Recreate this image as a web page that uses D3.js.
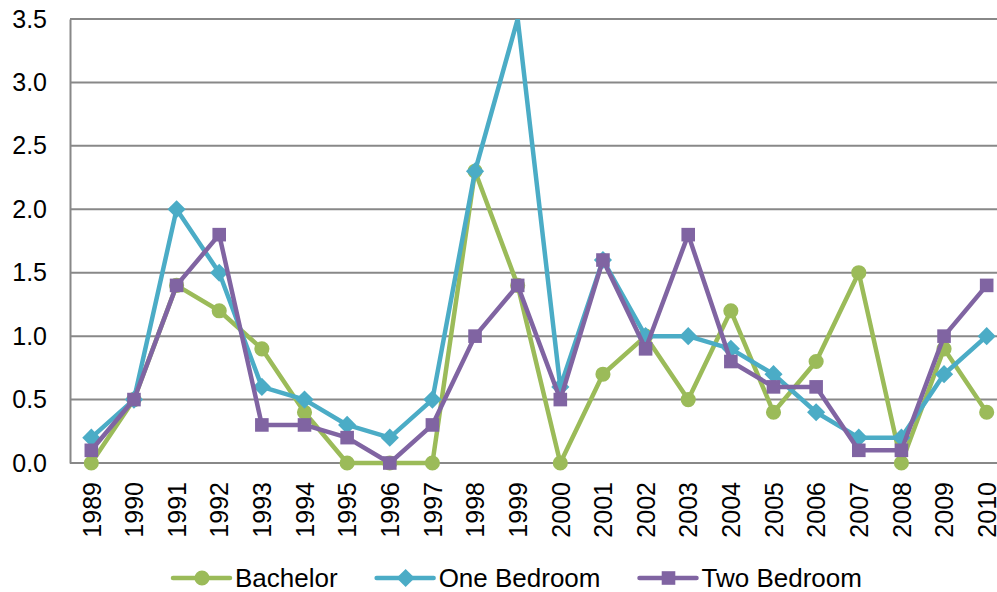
<!DOCTYPE html>
<html>

<head>
  <meta charset="utf-8">
  <title>Vacancy by unit type</title>
  <style>
    body { margin: 0; background: #fff; }
    svg { display: block; font-family: "Liberation Sans", Arial, sans-serif; }
  </style>
</head>

<body>
  <svg id="mySVG"></svg>

  <script src="https://cdnjs.cloudflare.com/ajax/libs/d3/7.8.5/d3.min.js"></script>
  <script>
    /** Chart data */
    const years = ["1989", "1990", "1991", "1992", "1993", "1994", "1995", "1996", "1997", "1998", "1999",
      "2000", "2001", "2002", "2003", "2004", "2005", "2006", "2007", "2008", "2009", "2010"];
    const bachelor = [0, 0.5, 1.4, 1.2, 0.9, 0.4, 0, 0, 0, 2.3, 1.4, 0, 0.7, 1.0, 0.5, 1.2, 0.4, 0.8, 1.5, 0, 0.9, 0.4];
    const oneBedroom = [0.2, 0.5, 2.0, 1.5, 0.6, 0.5, 0.3, 0.2, 0.5, 2.3, 3.5, 0.6, 1.6, 1.0, 1.0, 0.9, 0.7, 0.4, 0.2, 0.2, 0.7, 1.0];
    const twoBedroom = [0.1, 0.5, 1.4, 1.8, 0.3, 0.3, 0.2, 0, 0.3, 1.0, 1.4, 0.5, 1.6, 0.9, 1.8, 0.8, 0.6, 0.6, 0.1, 0.1, 1.0, 1.4];
    const yTicks = [0, 0.5, 1.0, 1.5, 2.0, 2.5, 3.0, 3.5];

    // diamond = square turned 45 degrees
    const series = [
      { name: "Bachelor", values: bachelor, color: "#9BBB59", shape: d3.symbolCircle, size: 180, rot: 0 },
      { name: "One Bedroom", values: oneBedroom, color: "#4BACC6", shape: d3.symbolSquare, size: 165, rot: 45 },
      { name: "Two Bedroom", values: twoBedroom, color: "#8064A2", shape: d3.symbolSquare, size: 185, rot: 0 }
    ];

    const width = 997, height = 592;
    const plot = { left: 70, top: 19, right: 1008, bottom: 463 };

    const svg = d3.select("#mySVG")
      .attr("width", width)
      .attr("height", height)
      .attr("viewBox", [0, 0, width, height]);

    /** Scales */
    const x = d3.scalePoint()
      .domain(years)
      .range([plot.left, plot.right])
      .padding(0.5);

    const y = d3.scaleLinear()
      .domain([0, 3.5])
      .range([plot.bottom, plot.top]);

    /** Gridlines */
    svg.append("g")
      .selectAll("line")
      .data(yTicks)
      .join("line")
      .attr("x1", plot.left)
      .attr("x2", width)
      .attr("y1", d => y(d))
      .attr("y2", d => y(d))
      .attr("stroke", "#888")
      .attr("stroke-width", 2);

    /** Y axis */
    const yAxis = svg.append("g")
      .attr("transform", `translate(${plot.left},0)`)
      .call(d3.axisLeft(y).tickValues(yTicks).tickFormat(d3.format(".1f")).tickSize(0).tickPadding(23));
    yAxis.select(".domain")
      .attr("stroke", "#888")
      .attr("stroke-width", 2);
    yAxis.selectAll("text")
      .attr("font-size", 25)
      .attr("fill", "#000")
      .attr("font-family", "Liberation Sans, Arial, sans-serif");

    /** X axis, rotated labels */
    const xAxis = svg.append("g")
      .attr("transform", `translate(0,${plot.bottom})`)
      .call(d3.axisBottom(x).tickSize(0));
    xAxis.select(".domain").remove();
    xAxis.selectAll("text")
      .attr("font-size", 25)
      .attr("fill", "#000")
      .attr("font-family", "Liberation Sans, Arial, sans-serif")
      .attr("text-anchor", "end")
      .attr("dy", "0.35em")
      .attr("y", 0)
      .attr("transform", "translate(0,19) rotate(-90)");

    /** Clip lines at the top of the plot */
    svg.append("clipPath")
      .attr("id", "clip")
      .append("rect")
      .attr("x", 0)
      .attr("y", plot.top)
      .attr("width", width)
      .attr("height", height - plot.top);

    const line = d3.line()
      .x((d, i) => x(years[i]))
      .y(d => y(d));

    const gSeries = svg.append("g").attr("clip-path", "url(#clip)");

    series.forEach(s => {
      const g = gSeries.append("g");
      g.append("path")
        .datum(s.values)
        .attr("d", line)
        .attr("fill", "none")
        .attr("stroke", s.color)
        .attr("stroke-width", 4.5)
        .attr("stroke-linejoin", "round");
      // markers sitting on the top edge are hidden, like the source chart
      g.selectAll(".marker")
        .data(s.values.map((v, i) => ({ v, year: years[i] })).filter(d => d.v < y.domain()[1]))
        .join("path")
        .attr("class", "marker")
        .attr("d", d3.symbol(s.shape, s.size))
        .attr("transform", d => `translate(${x(d.year)},${y(d.v)}) rotate(${s.rot})`)
        .attr("fill", s.color);
    });

    /** Legend */
    const legend = svg.append("g").attr("transform", "translate(0,578)");
    let lx = 173;
    series.forEach(s => {
      const item = legend.append("g").attr("transform", `translate(${lx},0)`);
      item.append("line")
        .attr("x1", 0)
        .attr("x2", 57)
        .attr("stroke", s.color)
        .attr("stroke-width", 4.5)
        .attr("stroke-linecap", "round");
      item.append("path")
        .attr("d", d3.symbol(s.shape, s.size))
        .attr("transform", `translate(29,0) rotate(${s.rot})`)
        .attr("fill", s.color);
      const t = item.append("text")
        .attr("x", 62)
        .attr("dy", "0.36em")
        .attr("font-size", 26)
        .attr("fill", "#000")
        .text(s.name);
      lx += 62 + t.node().getComputedTextLength() + 39;
    });
  </script>
</body>
</html>
